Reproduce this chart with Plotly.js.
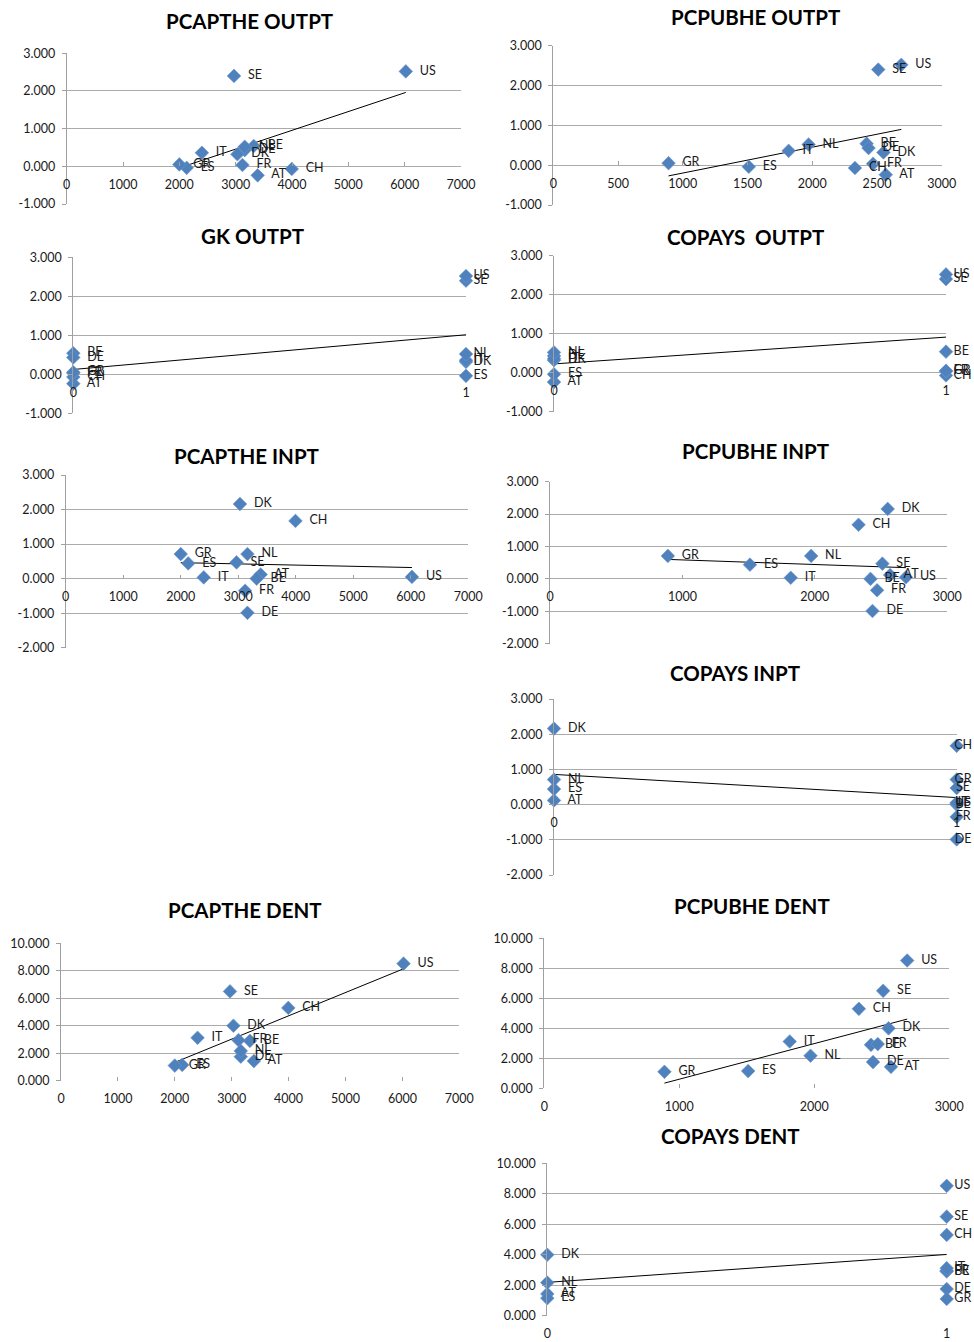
<!DOCTYPE html>
<html><head><meta charset="utf-8">
<script src="https://cdn.plot.ly/plotly-3.0.1.min.js"></script>
<style>html,body{margin:0;padding:0;background:#fff}</style>
</head><body><div id="chart" style="width:974px;height:1342px"></div>
<script>
// ---- data ----
const countries = ['AT','BE','CH','DE','DK','ES','FR','GR','IT','NL','SE','US'];
const pcapthe   = [3390, 3320, 3995, 3160, 3030, 2130, 3120, 2000, 2400, 3160, 2970, 6020];
const pcpubhe   = [2568, 2420, 2330, 2435, 2550, 1510, 2470, 890, 1818, 1972, 2510, 2688];
const gk        = [0, 0, 0, 0, 1, 1, 0, 0, 1, 1, 1, 1];
const copaysOutpt = [0, 1, 1, 0, 0, 0, 1, 1, 0, 0, 1, 1];
const copaysInpt  = [0, 1, 1, 1, 0, 0, 1, 1, 1, 0, 1, 1];
const copaysDent  = [0, 1, 1, 1, 0, 0, 1, 1, 1, 0, 1, 1];
const outpt = [-0.24, 0.54, -0.07, 0.43, 0.32, -0.04, 0.035, 0.05, 0.36, 0.52, 2.40, 2.52];
const inpt  = [0.12, 0.00, 1.67, -0.99, 2.16, 0.44, -0.35, 0.71, 0.035, 0.71, 0.47, 0.05];
const dent  = [1.43, 2.90, 5.30, 1.75, 4.00, 1.15, 2.95, 1.10, 3.12, 2.17, 6.50, 8.52];

const W = 974, H = 1342;
const FONT = 'Lato, "Open Sans", sans-serif';

const panels = [
  {title:'PCAPTHE OUTPT', x:pcapthe, y:outpt, box:[66.7,461,53.3,204], xr:[0,7000], xd:1000, yr:[-1,3], yd:1, t:[250,21]},
  {title:'PCPUBHE OUTPT', x:pcpubhe, y:outpt, box:[553.3,941.7,45.7,205], xr:[0,3000], xd:500, yr:[-1,3], yd:1, t:[755,17]},
  {title:'GK OUTPT', x:gk, y:outpt, box:[73.3,466,257.3,413.3], xr:[0,1], xd:1, yr:[-1,3], yd:1, t:[252,236]},
  {title:'COPAYS\u00A0 OUTPT', x:copaysOutpt, y:outpt, box:[554,946,255.7,411.7], xr:[0,1], xd:1, yr:[-1,3], yd:1, t:[745,237]},
  {title:'PCAPTHE INPT', x:pcapthe, y:inpt, box:[65.7,468.3,475,647.7], xr:[0,7000], xd:1000, yr:[-2,3], yd:1, t:[246,456]},
  {title:'PCPUBHE INPT', x:pcpubhe, y:inpt, box:[550,947.3,481.7,643.7], xr:[0,3000], xd:1000, yr:[-2,3], yd:1, t:[755,451]},
  {title:'COPAYS INPT', x:copaysInpt, y:inpt, box:[554,956.7,699,875], xr:[0,1], xd:1, yr:[-2,3], yd:1, t:[735,673]},
  {title:'PCAPTHE DENT', x:pcapthe, y:dent, box:[61,459.3,943.3,1080.7], xr:[0,7000], xd:1000, yr:[0,10], yd:2, t:[245,910]},
  {title:'PCPUBHE DENT', x:pcpubhe, y:dent, box:[544.3,949.3,938.3,1088.3], xr:[0,3000], xd:1000, yr:[0,10], yd:2, t:[752,906]},
  {title:'COPAYS DENT', x:copaysDent, y:dent, box:[547.3,946.7,1163.3,1315.7], xr:[0,1], xd:1, yr:[0,10], yd:2, t:[730,1136]}
];

function fit(xs, ys) {
  const n = xs.length;
  const mx = xs.reduce((a,b)=>a+b,0)/n, my = ys.reduce((a,b)=>a+b,0)/n;
  let sxy = 0, sxx = 0;
  for (let i=0;i<n;i++){ sxy += (xs[i]-mx)*(ys[i]-my); sxx += (xs[i]-mx)*(xs[i]-mx); }
  const b = sxy/sxx, a = my - b*mx;
  const x0 = Math.min(...xs), x1 = Math.max(...xs);
  return {x:[x0,x1], y:[a+b*x0, a+b*x1]};
}

const traces = [];
const layout = {
  width: W, height: H, margin:{l:0,r:0,t:0,b:0},
  paper_bgcolor:'#fff', plot_bgcolor:'rgba(0,0,0,0)',
  showlegend:false, font:{family:FONT, size:12, color:'#1a1a1a'},
  annotations: []
};

panels.forEach((p, i) => {
  const k = i === 0 ? '' : String(i+1);
  const xa = 'x'+k, ya = 'y'+k;
  const [l, r, t, b] = p.box;
  const xdom = [l/W, r/W];
  const ydom = [1 - b/H, 1 - t/H];
  const zeroPos = ydom[0] + (0 - p.yr[0])/(p.yr[1]-p.yr[0])*(ydom[1]-ydom[0]);
  const tl = fit(p.x, p.y);
  const yvals = [];
  for (let v = p.yr[0]; v <= p.yr[1] + 1e-9; v += p.yd) yvals.push(v);
  // labels at the right edge of a chart sit closer to their markers (pushed in like Excel)
  const tight = r + 20 > W;
  const labels = countries.map((c, j) => {
    if (p.x[j] < p.xr[1]) return '\u00A0\u00A0' + c;
    return tight ? '\u00A0\u00A0\u00A0\u00A0' + c : c;
  });
  const tpos = countries.map((c, j) => (p.x[j] >= p.xr[1] && tight) ? 'middle center' : 'middle right');
  traces.push({
    type:'scatter', mode:'lines', x:tl.x, y:tl.y, xaxis:xa, yaxis:ya,
    line:{color:'#000', width:1}, hoverinfo:'skip'
  });
  traces.push({
    type:'scatter', mode:'markers+text', x:p.x, y:p.y, text:labels,
    textposition:tpos, cliponaxis:false, xaxis:xa, yaxis:ya,
    marker:{symbol:'diamond', size:10.5, color:'#4F81BD', line:{color:'#6b96cc', width:0.6}},
    textfont:{family:FONT, size:12.5, color:'#1a1a1a'}
  });
  layout['xaxis'+k] = {
    domain: xdom, range: p.xr, dtick: p.xd, tick0: 0, tickformat: 'd',
    anchor: 'free', position: zeroPos, showgrid:false, zeroline:false, showline:false,
    ticks:'inside', ticklen:4, tickcolor:'#a0a0a0', ticklabelstandoff:9,
    tickfont:{family:FONT, size:12.5, color:'#1a1a1a'},
    fixedrange:true
  };
  layout['yaxis'+k] = {
    domain: ydom, range: p.yr, tickmode:'array', tickvals: yvals,
    ticktext: yvals.map(v => v.toFixed(3)),
    anchor: xa, showgrid:true, gridcolor:'#ababab', gridwidth:1, zeroline:false,
    showline:true, linecolor:'#a0a0a0', linewidth:1,
    ticks:'outside', ticklen:4, tickcolor:'#a0a0a0', ticklabelstandoff:4,
    tickfont:{family:FONT, size:12.5, color:'#1a1a1a'}, fixedrange:true
  };
  layout.annotations.push({
    text: '<b>'+p.title+'</b>', xref:'paper', yref:'paper',
    x: p.t[0]/W, y: 1 - p.t[1]/H, xanchor:'center', yanchor:'middle',
    showarrow:false, font:{family:FONT, size:20.5, color:'#000'}
  });
});

Plotly.newPlot('chart', traces, layout, {displayModeBar:false, staticPlot:true});
</script>
</body></html>
